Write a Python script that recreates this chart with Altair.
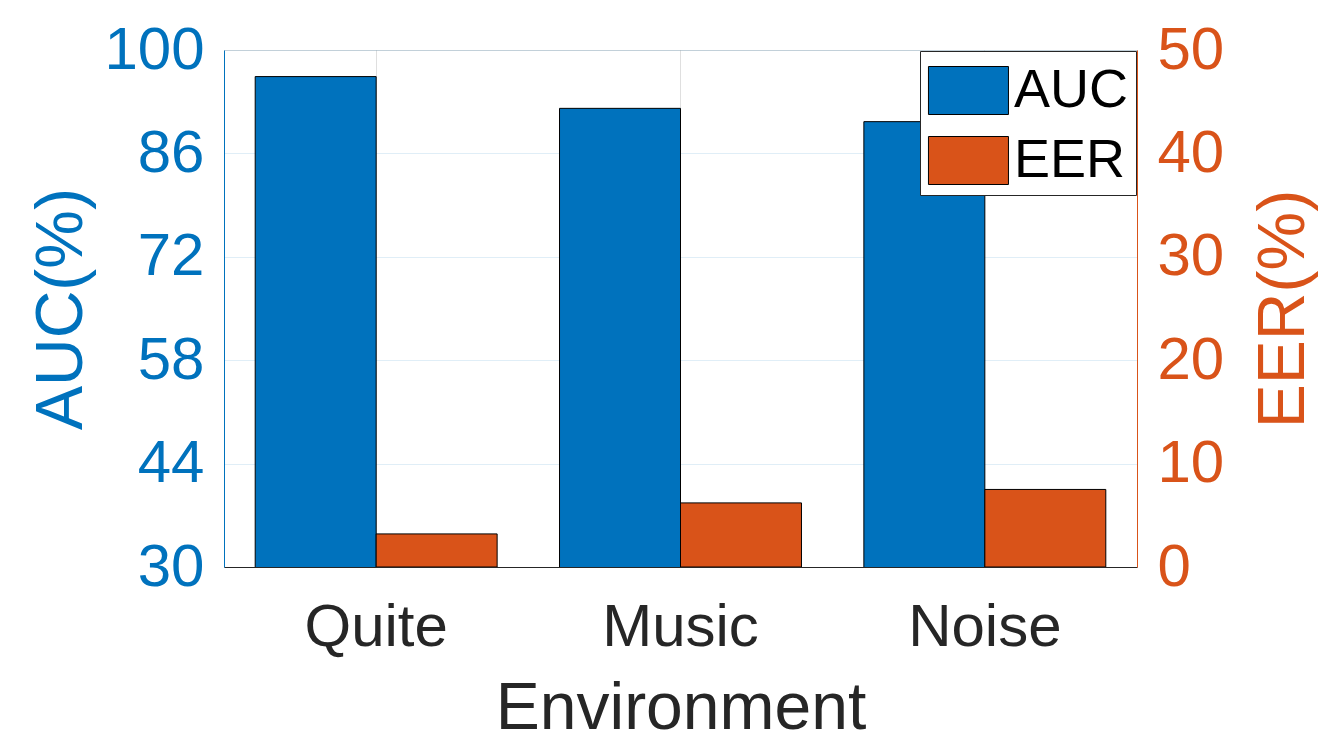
import altair as alt
import pandas as pd

environments = ["Quite", "Music", "Noise"]
auc_values = [96.4, 92.1, 90.3]
eer_values = [3.2, 6.2, 7.5]
series_names = ["AUC", "EER"]
auc_ticks = [30, 44, 58, 72, 86, 100]
eer_ticks = [0, 10, 20, 30, 40, 50]

BLUE = "#0072BD"
ORANGE = "#D95319"
DARK = "#262626"
FONT = "Liberation Sans"

rows = []
for e, a, r in zip(environments, auc_values, eer_values):
    rows.append({"Environment": e, "series": "AUC", "value": a})
    rows.append({"Environment": e, "series": "EER", "value": r})
df = pd.DataFrame(rows)

base = alt.Chart(df).encode(
    x=alt.X(
        "Environment:N",
        sort=environments,
        scale=alt.Scale(paddingInner=0.205, paddingOuter=0.1025),
        axis=alt.Axis(
            title="Environment", labelAngle=0, labelFont=FONT, labelFontSize=60,
            labelColor=DARK, labelPadding=31, ticks=False, domainColor=DARK,
            titleFont=FONT, titleFontSize=66, titleFontWeight="normal", titleColor=DARK,
            titlePadding=19, grid=True, gridColor=DARK, gridOpacity=0.15, bandPosition=0.5,
        ),
    ),
    xOffset=alt.XOffset(
        "series:N", sort=series_names,
        scale=alt.Scale(domain=series_names, paddingInner=0, paddingOuter=0),
    ),
    color=alt.Color(
        "series:N",
        scale=alt.Scale(domain=series_names, range=[BLUE, ORANGE]),
        legend=alt.Legend(
            title=None, orient="none", legendX=696, legendY=1,
            symbolType="M-0.97,-0.75H1.53V0.75H-0.97Z", symbolSize=4096,
            symbolStrokeColor="black", symbolStrokeWidth=1, symbolOpacity=1,
            labelFont=FONT, labelFontSize=54, labelColor="black", labelOffset=22,
            padding=7, rowPadding=10, strokeColor=DARK, fillColor="white",
            cornerRadius=0, labelLimit=400,
        ),
    ),
)

auc = base.transform_filter(alt.datum.series == "AUC").mark_bar(
    stroke="black", strokeWidth=1, clip=True
).encode(
    y=alt.Y(
        "value:Q",
        scale=alt.Scale(domain=[30, 100], zero=False, nice=False),
        axis=alt.Axis(
            orient="left", values=auc_ticks, title="AUC(%)", ticks=False,
            domainColor=BLUE, labelColor=BLUE, labelFont=FONT, labelFontSize=60,
            labelPadding=20, titleFont=FONT, titleFontSize=66, titleFontWeight="normal",
            titleColor=BLUE, titlePadding=8, grid=True, gridColor=BLUE, gridOpacity=0.12,
        ),
    )
)

eer = base.transform_filter(alt.datum.series == "EER").mark_bar(
    stroke="black", strokeWidth=1, clip=True
).encode(
    y=alt.Y(
        "value:Q",
        scale=alt.Scale(domain=[0, 50], nice=False),
        axis=alt.Axis(
            orient="right", values=eer_ticks, title="EER(%)", ticks=False,
            domainColor=ORANGE, labelColor=ORANGE, labelFont=FONT, labelFontSize=60,
            labelPadding=20, titleFont=FONT, titleFontSize=66, titleFontWeight="normal",
            titleColor=ORANGE, titlePadding=28, titleAngle=270, titleBaseline="top",
            grid=False,
        ),
    )
)

chart = (
    alt.layer(auc, eer)
    .resolve_scale(y="independent")
    .properties(
        width=913, height=517,
        autosize=alt.AutoSizeParams(type="none"),
        padding={"left": 216, "top": 42, "right": 185, "bottom": 174},
    )
    .configure_view(stroke=DARK, strokeWidth=1)
    .configure(background="white")
)

chart.save("out.html", embed_options={"renderer": "svg", "actions": False})
